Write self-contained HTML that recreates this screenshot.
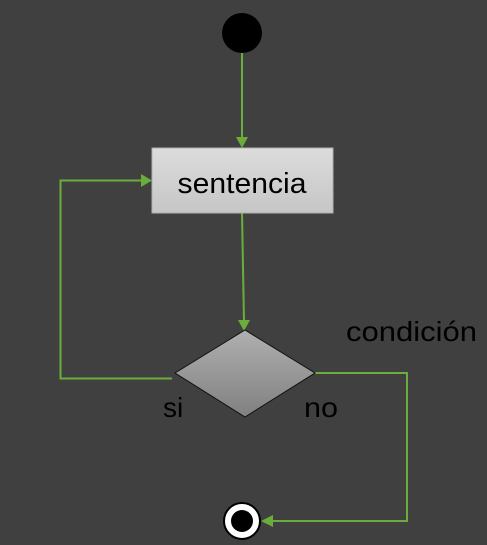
<!DOCTYPE html>
<html><head><style>
html,body{margin:0;padding:0;background:#404040;}
svg{display:block;}
text{font-family:"Liberation Sans",sans-serif;fill:#000;}
</style></head><body>
<svg width="487" height="545" viewBox="0 0 487 545">
<defs>
<linearGradient id="bx" x1="0" y1="0" x2="0" y2="1"><stop offset="0" stop-color="#dcdcdc"/><stop offset="1" stop-color="#c6c6c6"/></linearGradient>
<linearGradient id="dm" x1="0" y1="0" x2="0" y2="1"><stop offset="0" stop-color="#b0b0b0"/><stop offset="1" stop-color="#808080"/></linearGradient>
</defs>
<rect width="487" height="545" fill="#404040"/>
<g stroke="#6aad3c" stroke-width="2" fill="none">
<line x1="242" y1="52" x2="242" y2="139"/>
<line x1="242" y1="213" x2="244" y2="321"/>
<polyline points="172,378.5 60.5,378.5 60.5,180.5 142,180.5"/>
<polyline points="315,373 407,373 407,521 272,521"/>
</g>
<g fill="#6aad3c">
<polygon points="236,137 248,137 242,148"/>
<polygon points="238,320 250,320 244,331"/>
<polygon points="141,174 141,187 152,180.5"/>
<polygon points="273,515 273,527 261,521"/>
</g>
<circle cx="242" cy="33" r="20" fill="#000"/>
<rect x="152" y="148" width="181" height="65" fill="url(#bx)" stroke="#b0b0b0" stroke-width="1"/>
<text x="242" y="193" font-size="29" text-anchor="middle" textLength="129" lengthAdjust="spacingAndGlyphs">sentencia</text>
<polygon points="175,373 245,330 315,373 245,417" fill="url(#dm)" stroke="#111" stroke-width="1"/>
<text x="346" y="341" font-size="28" textLength="131" lengthAdjust="spacingAndGlyphs">condición</text>
<text x="163" y="417" font-size="28">si</text>
<text x="304" y="417" font-size="28" textLength="34" lengthAdjust="spacingAndGlyphs">no</text>
<circle cx="242" cy="521" r="18" fill="#fff" stroke="#000" stroke-width="2"/>
<circle cx="242" cy="521" r="11" fill="#000"/>
</svg>
</body></html>
